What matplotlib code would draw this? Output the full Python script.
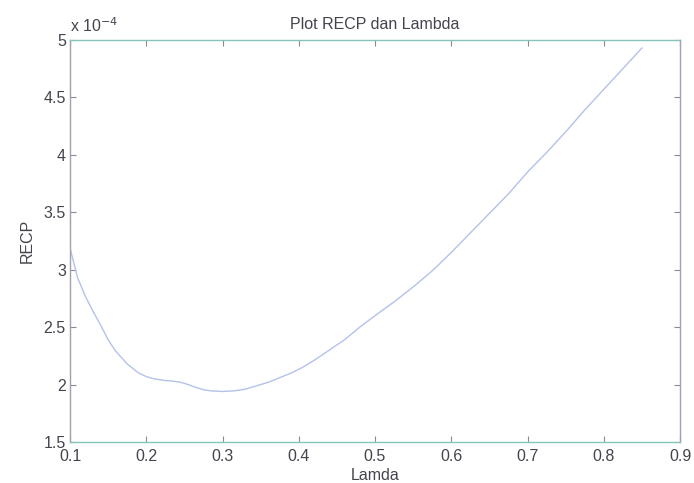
import matplotlib
matplotlib.use("Agg")
import matplotlib.pyplot as plt
import numpy as np

# values (RECP in units of 1e-4)
lamda = [0.100, 0.110, 0.120, 0.130, 0.140, 0.150, 0.160, 0.175, 0.190, 0.200,
         0.210, 0.225, 0.235, 0.245, 0.255, 0.265, 0.275, 0.285, 0.300, 0.315,
         0.330, 0.345, 0.360, 0.375, 0.390, 0.405, 0.420, 0.440, 0.460, 0.480,
         0.500, 0.525, 0.550, 0.575, 0.600, 0.625, 0.650, 0.675, 0.700, 0.725,
         0.750, 0.775, 0.800, 0.825, 0.850]
recp_e4 = [3.19, 2.93, 2.77, 2.64, 2.52, 2.39, 2.29, 2.18, 2.10, 2.07,
           2.05, 2.035, 2.03, 2.02, 2.00, 1.975, 1.955, 1.945, 1.94, 1.945,
           1.96, 1.99, 2.02, 2.06, 2.10, 2.15, 2.21, 2.30, 2.39, 2.50,
           2.60, 2.72, 2.85, 2.99, 3.15, 3.32, 3.49, 3.66, 3.85, 4.02,
           4.20, 4.39, 4.57, 4.75, 4.93]

xticks = [0.1, 0.2, 0.3, 0.4, 0.5, 0.6, 0.7, 0.8, 0.9]
yticks = [1.5, 2, 2.5, 3, 3.5, 4, 4.5, 5]

plt.rcParams['font.family'] = ['Liberation Sans', 'DejaVu Sans']
txt = '#44444e'

fig = plt.figure(figsize=(6.94, 4.83), dpi=100)
ax = fig.add_axes([70/694, 41/483, 610/694, 402/483])

ax.plot(np.array(lamda), np.array(recp_e4), color='#b4c2ea', lw=1.0)

ax.set_xlim(0.1, 0.9)
ax.set_ylim(1.5, 5)
ax.set_xticks(xticks)
ax.set_yticks(yticks)
ax.set_xticklabels(['%g' % t for t in xticks])
ax.set_yticklabels(['%g' % t for t in yticks])
ax.tick_params(direction='in', length=4, width=0.8, top=True, right=True,
               labelsize=11.5, colors='#8a8a96', labelcolor=txt, pad=3)
ax.tick_params(axis='x', pad=5)

for s in ['left', 'right']:
    ax.spines[s].set_color('#a0a0ae')
for s in ['top', 'bottom']:
    ax.spines[s].set_color('#86c4bc')
for s in ax.spines.values():
    s.set_linewidth(1.0)

ax.set_title('Plot RECP dan Lambda', fontsize=11.5, color=txt, pad=8)
ax.set_xlabel('Lamda', fontsize=11.5, color=txt, labelpad=3)
ax.set_ylabel('RECP', fontsize=11.5, color=txt, labelpad=6)
ax.text(0.0, 1.012, r'x 10$^{-4}$', transform=ax.transAxes, fontsize=11.5,
        color=txt, ha='left', va='bottom')

fig.savefig('out.png', dpi=100)
